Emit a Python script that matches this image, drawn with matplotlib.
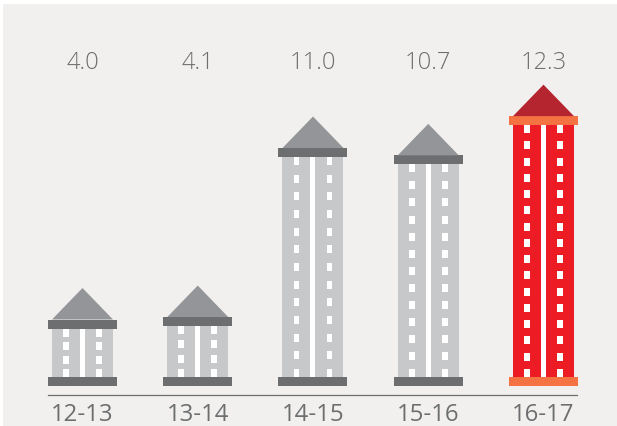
import matplotlib
matplotlib.use("Agg")
import matplotlib.pyplot as plt
from matplotlib.patches import Rectangle, Polygon

# data
years = ["12-13", "13-14", "14-15", "15-16", "16-17"]
values = [4.0, 4.1, 11.0, 10.7, 12.3]
window_rows = [4, 4, 13, 13, 16]

W, H = 617, 427
PX_X = 115.25  # pixels per category
PX_Y = 24.5    # pixels per unit of value

GREY = {"shaft": "#c7c8ca", "cap": "#6d6e70", "roof": "#939598"}
RED = {"shaft": "#ed1c24", "cap": "#f57342", "roof": "#b5252f"}
BG = "#f1f0ee"
AXIS_GREY = "#6d6e70"
VALUE_GREY = "#6d6e70"

plt.rcParams["font.family"] = ["Open Sans", "DejaVu Sans"]

fig = plt.figure(figsize=(W / 100, H / 100), dpi=100, facecolor="white")
# panel goes behind the axes
fig.patches.append(Rectangle((3 / W, 0), 614 / W, 422 / H, transform=fig.transFigure,
                             facecolor=BG, edgecolor="none", zorder=-1))

# axes bottom edge is the rule under the buildings
ax = fig.add_axes([3 / W, (H - 395.5) / H, 614 / W, 390.5 / H])
ax.patch.set_alpha(0)
ax.set_xlim(-79.5 / PX_X, -79.5 / PX_X + 614 / PX_X)
ax.set_ylim(-8.5 / PX_Y, 382 / PX_Y)


def px(v):
    return v / PX_X


def py(v):
    return v / PX_Y


def box(x0, x1, y0, y1, color):
    ax.add_patch(Rectangle((x0, y0), x1 - x0, y1 - y0, facecolor=color, edgecolor="none"))


def building(i, value, rows, c):
    # the full height, roof tip included, carries the value
    cap_w = px(34.5)
    shaft_w = px(30.5)
    cap_h = py(9)
    win_h = py(8)
    roof_base = value - py(31.5)
    cap_bot = roof_base - cap_h

    box(i - shaft_w, i + shaft_w, cap_h, cap_bot, c["shaft"])
    box(i - px(2.5), i + px(2.5), cap_h, cap_bot, "white")

    pitch = (cap_bot - cap_h - win_h) / (rows - 1)
    for r in range(rows):
        y0 = cap_h + r * pitch
        for off in (-16.5, 16.5):
            box(i + px(off - 2.8), i + px(off + 2.8), y0, y0 + win_h, "white")

    box(i - cap_w, i + cap_w, 0, cap_h, c["cap"])
    box(i - cap_w, i + cap_w, cap_bot, roof_base, c["cap"])
    ax.add_patch(Polygon([(i - shaft_w, roof_base), (i + shaft_w, roof_base), (i, value)],
                         closed=True, facecolor=c["roof"], edgecolor="none"))


for i, (v, n) in enumerate(zip(values, window_rows)):
    building(i, v, n, RED if i == len(values) - 1 else GREY)
    ax.text(i, py(324), f"{v:.1f}", ha="center", va="center", fontsize=17,
            fontweight="light", color=VALUE_GREY)

for side in ("top", "left", "right"):
    ax.spines[side].set_visible(False)
ax.spines["bottom"].set_bounds(-0.3, 4.29)
ax.spines["bottom"].set_color(AXIS_GREY)
ax.spines["bottom"].set_linewidth(0.9)

ax.set_yticks([])
ax.set_xticks(range(len(years)))
ax.set_xticklabels(years, fontsize=17.3, color=AXIS_GREY)
ax.tick_params(axis="x", length=0, pad=5.5)

fig.savefig("out.png", dpi=100)
